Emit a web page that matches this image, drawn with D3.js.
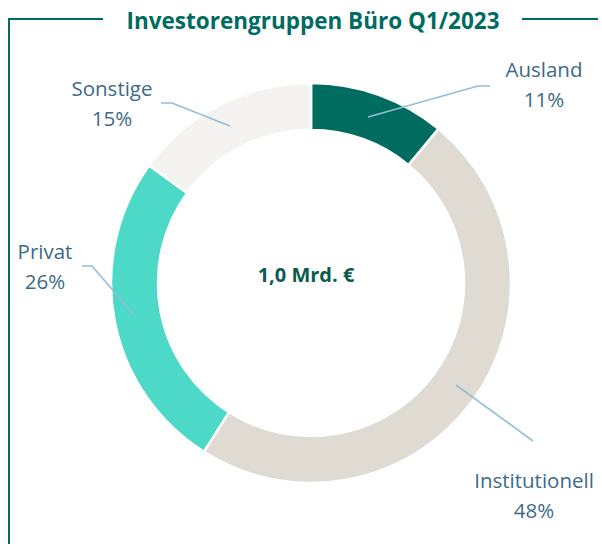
<!DOCTYPE html>
<html lang="de">
<head>
<meta charset="UTF-8">
<script src="https://cdn.jsdelivr.net/npm/d3@7"></script>
<style>
  body { margin: 0; background: #fff; font-family: "Open Sans", sans-serif; }
</style>
</head>
<body>
<script>
// data
const categories = ["Ausland", "Institutionell", "Privat", "Sonstige"];
const shares = [11, 48, 26, 15];
const colors = ["#006b5f", "#dfdbd2", "#4dd9c8", "#f4f3f2"];
const title = "Investorengruppen Büro Q1/2023";
const centerLabel = "1,0 Mrd. €";

const W = 602, H = 544;
const cx = 311, cy = 283;
const rOuter = 200, rInner = 153;

const svg = d3.select("body").append("svg")
  .attr("width", W).attr("height", H);

// frame
svg.append("path")
  .attr("d", "M9,544 V19 H103 M522,19 H598")
  .attr("fill", "none").attr("stroke", "#006b5f").attr("stroke-width", 2);

svg.append("text")
  .attr("x", 313).attr("y", 29)
  .attr("text-anchor", "middle")
  .attr("font-weight", "bold").attr("font-size", 22.5)
  .attr("fill", "#006b5f")
  .text(title);

const pie = d3.pie().sort(null).value(d => d);
const arcs = pie(shares);
const arc = d3.arc().innerRadius(rInner).outerRadius(rOuter);

const g = svg.append("g").attr("transform", `translate(${cx},${cy})`);
g.selectAll("path").data(arcs).enter().append("path")
  .attr("d", arc)
  .attr("fill", (d, i) => colors[i])
  .attr("stroke", "#fff").attr("stroke-width", 2.5);

svg.append("text")
  .attr("x", 306).attr("y", 282)
  .attr("text-anchor", "middle")
  .attr("font-weight", "bold").attr("font-size", 20)
  .attr("fill", "#0b5b50")
  .text(centerLabel);

// label placement: text centre, first baseline, leader line points
const labelPos = [
  { tx: 544, ty: 77, pts: [[368, 117], [478, 86], [490, 86]] },
  { tx: 534, ty: 488, pts: [[456, 385], [533, 441]] },
  { tx: 45, ty: 259, pts: [[136, 317], [92, 266], [82, 266]] },
  { tx: 112, ty: 96, pts: [[230, 126], [172, 103], [161, 103]] }
];

const line = d3.line();
labelPos.forEach((p, i) => {
  svg.append("path").attr("d", line(p.pts))
    .attr("fill", "none").attr("stroke", "#93bfd6").attr("stroke-width", 1.6);
  const t = svg.append("text")
    .attr("text-anchor", "middle").attr("font-size", 20.5)
    .attr("fill", "#3d6a86");
  t.append("tspan").attr("x", p.tx).attr("y", p.ty).text(categories[i]);
  t.append("tspan").attr("x", p.tx).attr("y", p.ty + 29.5).text(shares[i] + "%");
});
</script>
</body>
</html>
